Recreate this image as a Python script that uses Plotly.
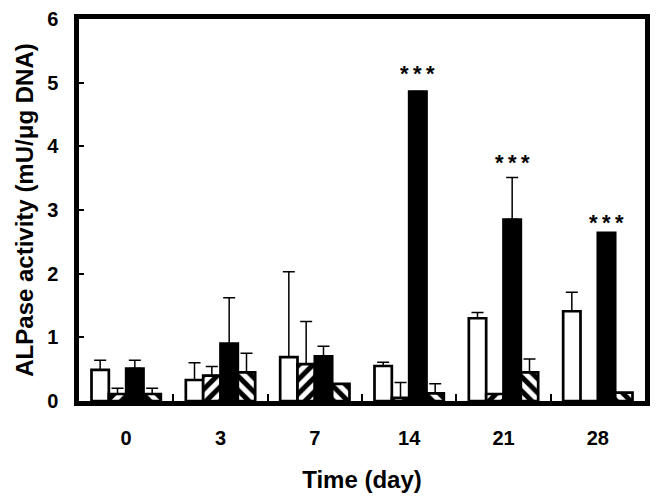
import plotly.graph_objects as go

days = ["0", "3", "7", "14", "21", "28"]

open_vals = [0.49, 0.33, 0.69, 0.55, 1.30, 1.41]
open_err = [0.15, 0.27, 1.34, 0.06, 0.09, 0.30]

fwd_vals = [0.11, 0.40, 0.58, 0.05, 0.11, 0.0]
fwd_err = [0.09, 0.14, 0.67, 0.24, 0.0, 0.0]

solid_vals = [0.51, 0.90, 0.70, 4.86, 2.85, 2.64]
solid_err = [0.13, 0.72, 0.16, 0.0, 0.66, 0.0]

back_vals = [0.11, 0.45, 0.27, 0.12, 0.45, 0.13]
back_err = [0.09, 0.30, 0.0, 0.15, 0.21, 0.0]

star_days = ["14", "21", "28"]
star_y = [5.14, 3.75, 2.81]
star_text = "*\u2009*\u2009*"

FONT = "Liberation Sans, Arial, sans-serif"
# page body has an 8px default margin, so the figure is drawn at (8, 8)
W, H = 651, 492
ML, MR, MT, MB = 71, 14, 11, 99
BARGAP = 0.265

def err(arr):
    return dict(type="data", array=arr, arrayminus=[0] * len(arr), symmetric=False,
                color="black", thickness=1.5, width=6)

line = dict(color="black", width=2.7)

fig = go.Figure()
fig.add_trace(go.Bar(x=days, y=open_vals, error_y=err(open_err),
                     marker=dict(color="white", line=line)))
fig.add_trace(go.Bar(x=days, y=fwd_vals, error_y=err(fwd_err),
                     marker=dict(color="white", line=line,
                                 pattern=dict(shape="/", fgcolor="black", bgcolor="white",
                                              size=10, solidity=0.5, fillmode="replace"))))
fig.add_trace(go.Bar(x=days, y=solid_vals, error_y=err(solid_err),
                     marker=dict(color="black", line=line)))
fig.add_trace(go.Bar(x=days, y=back_vals, error_y=err(back_err),
                     marker=dict(color="white", line=line,
                                 pattern=dict(shape="\\", fgcolor="black", bgcolor="white",
                                              size=10, solidity=0.5, fillmode="replace"))))

group_px = (W - ML - MR) / len(days)
bar_px = group_px * (1 - BARGAP) / 4
for d, yv in zip(star_days, star_y):
    fig.add_annotation(x=days.index(d), y=yv, text=star_text, showarrow=False,
                       xshift=bar_px / 2, yanchor="middle",
                       font=dict(family=FONT, size=22, color="black", weight="bold"))

fig.update_layout(
    width=W, height=H,
    margin=dict(l=ML, r=MR, t=MT, b=MB, autoexpand=False),
    paper_bgcolor="white", plot_bgcolor="white",
    barmode="group", bargap=BARGAP, bargroupgap=0,
    showlegend=False,
    font=dict(family=FONT, color="black"),
)
fig.update_xaxes(
    type="category", range=[-0.5, len(days) - 0.5], automargin=False,
    showline=True, mirror=True, linewidth=4.5, linecolor="black",
    ticks="inside", tickson="boundaries", ticklen=7, tickwidth=2, tickcolor="black",
    showgrid=False, zeroline=False,
    tickfont=dict(family=FONT, size=20, weight="bold"),
    ticklabelstandoff=15,
    title=dict(text="Time (day)", font=dict(family=FONT, size=24, weight="bold"), standoff=25),
)
fig.update_yaxes(
    range=[0, 6], dtick=1, automargin=False,
    showline=True, mirror=True, linewidth=4.5, linecolor="black",
    ticks="inside", ticklen=5, tickwidth=2, tickcolor="black",
    showgrid=False, zeroline=False,
    tickfont=dict(family=FONT, size=20, weight="bold"),
    ticklabelstandoff=12,
    title=dict(text="ALPase activity (mU/μg DNA)", font=dict(family=FONT, size=24, weight="bold"), standoff=8),
)

fig.write_html("out.html")
